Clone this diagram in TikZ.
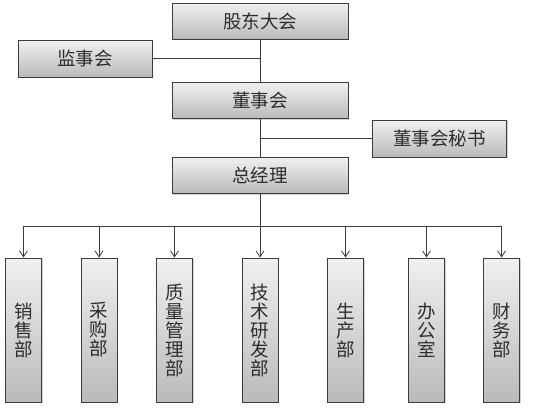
\documentclass[tikz,border=0pt]{standalone}
\usepackage{fontspec}
\usepackage{tikz}
\usetikzlibrary{arrows.meta, positioning, calc, shadows}
\newfontfamily\cjk{Noto Sans CJK SC}
\definecolor{boxline}{RGB}{60,60,60}
\definecolor{boxtop}{RGB}{240,240,240}
\definecolor{boxbot}{RGB}{186,186,186}
\definecolor{txtdark}{RGB}{45,45,45}
\tikzset{
  orgbox/.style={rectangle, draw=boxline, line width=1pt,
    top color=boxtop, bottom color=boxbot, text=txtdark,
    font=\cjk\fontsize{18.5}{19}\selectfont, inner sep=0pt,
    drop shadow={shadow xshift=1.2pt, shadow yshift=-1.2pt, opacity=0.35}},
  topbox/.style={orgbox, minimum width=176pt, minimum height=36pt},
  sidebox/.style={orgbox, minimum width=134pt, minimum height=37pt},
  deptbox/.style={orgbox, minimum width=36pt, minimum height=144pt, align=center},
  arrow/.style={-{Straight Barb[length=6pt, width=8pt]}, line width=0.8pt, color=boxline},
  line/.style={line width=0.8pt, color=boxline}
}
\begin{document}
\begin{tikzpicture}[x=1pt, y=-1pt]
  \useasboundingbox (0,0) rectangle (554,407);
  % ── management chain ──
  \node[topbox]  (gudong)     at (260, 21)    {股东大会};
  \node[sidebox] (jianshi)    at (85, 58.5)   {监事会};
  \node[topbox]  (dongshi)    at (260, 100.5) {董事会};
  \node[sidebox] (mishu)      at (439.5, 138.5) {董事会秘书};
  \node[topbox]  (zongjingli) at (260, 175.5) {总经理};
  \draw[line] (gudong.south) -- (dongshi.north);
  \draw[line] (jianshi.east) -- (jianshi.east -| gudong.south);
  \draw[line] (dongshi.south) -- (zongjingli.north);
  \draw[line] (mishu.west) -- (mishu.west -| dongshi.south);

  % ── departments (y = 258 – 402) ──
  \node[deptbox] (xiaoshou) at (23.5, 330)  {销\\售\\部};
  \node[deptbox] (caigou)   at (99, 330)    {采\\购\\部};
  \node[deptbox] (zhiliang) at (174.5, 330) {质\\量\\管\\理\\部};
  \node[deptbox] (jishu)    at (260, 330)   {技\\术\\研\\发\\部};
  \node[deptbox] (shengchan) at (345.5, 330) {生\\产\\部};
  \node[deptbox] (bangong)  at (426.5, 330) {办\\公\\室};
  \node[deptbox] (caiwu)    at (501.5, 330) {财\\务\\部};
  \coordinate (bus) at (260, 226);
  \draw[line] (zongjingli.south) -- (bus);
  \draw[line] (xiaoshou.north |- bus) -- (caiwu.north |- bus);
  \foreach \d in {xiaoshou, caigou, zhiliang, jishu, shengchan, bangong, caiwu} {
    \draw[arrow] (\d.north |- bus) -- (\d.north);
  }
\end{tikzpicture}
\end{document}
